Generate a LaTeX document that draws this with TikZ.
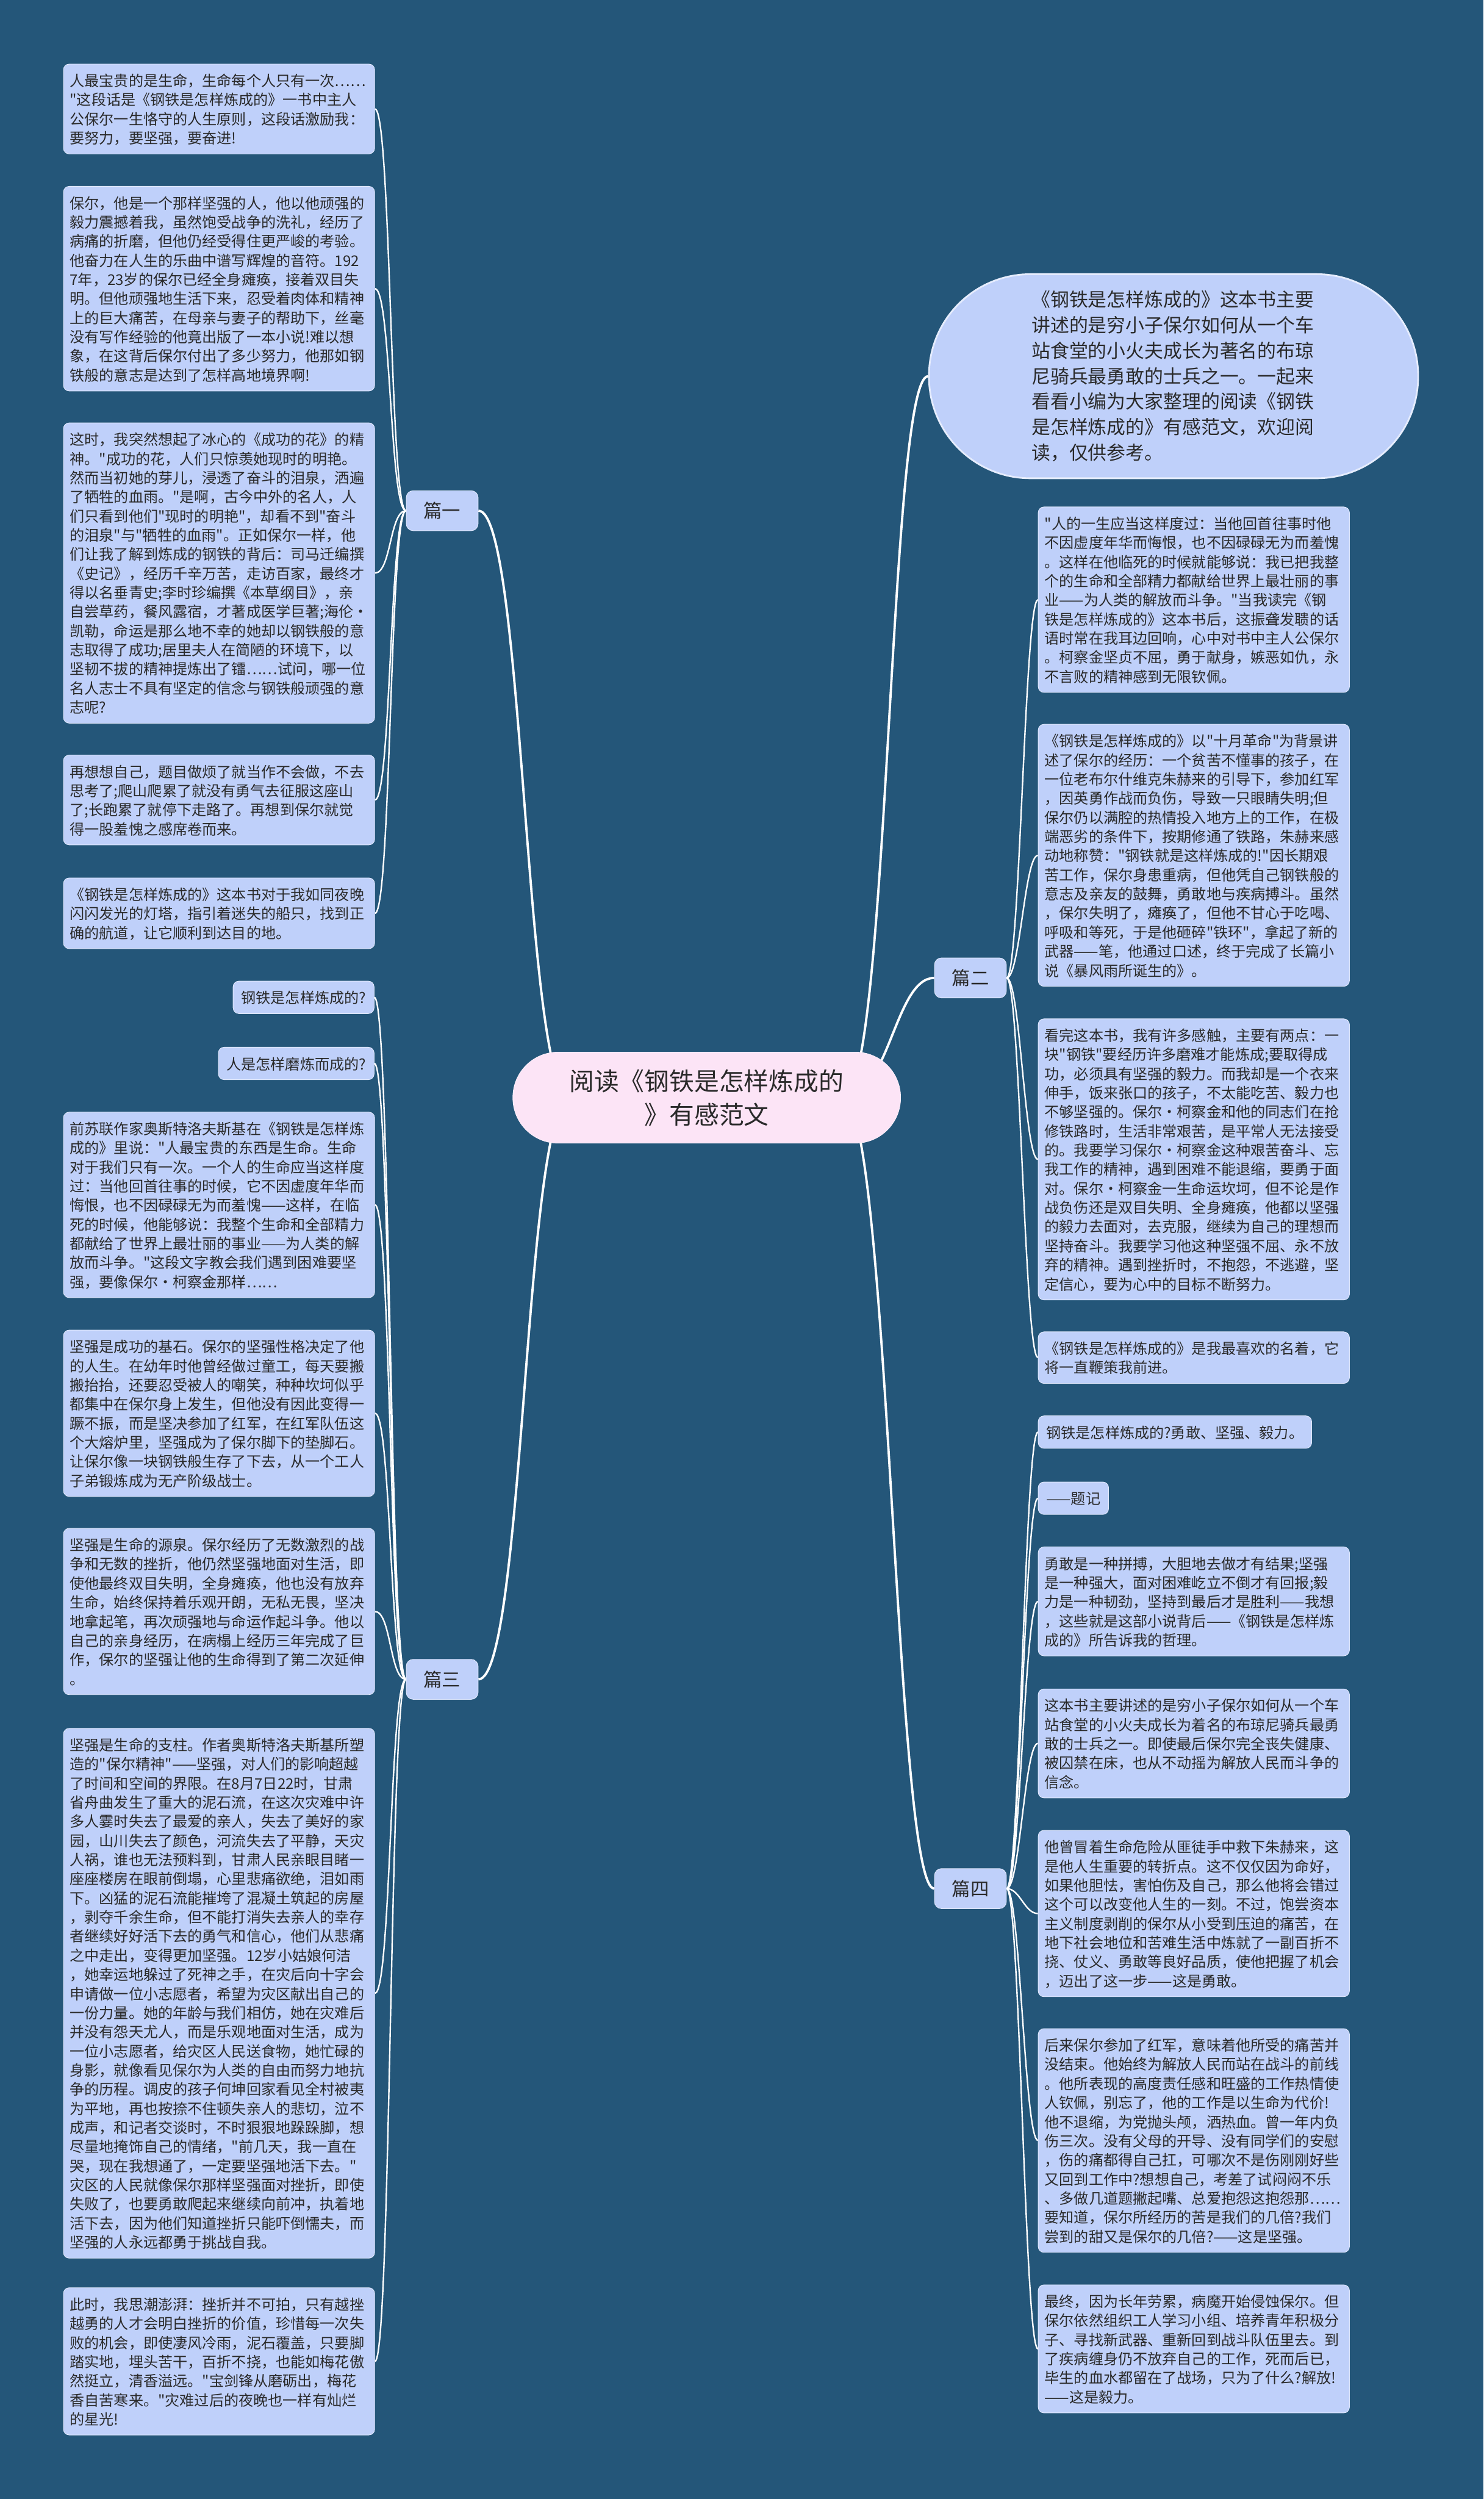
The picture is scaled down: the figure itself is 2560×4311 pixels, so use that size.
\documentclass[tikz,border=0pt]{standalone}
\usepackage{fontspec}
\setmainfont{Noto Sans CJK SC}
\newfontfamily\cjk{Noto Sans CJK SC}
\usetikzlibrary{backgrounds}
\definecolor{bgc}{HTML}{245679}
\definecolor{boxfill}{HTML}{BFD0FA}
\definecolor{rootfill}{HTML}{FCE4F6}
\definecolor{txt}{HTML}{2A2A2A}
\newcommand{\bt}[1]{\rule{0pt}{27pt}#1\rule[-6pt]{0pt}{6pt}}
\begin{document}
\begin{tikzpicture}[x=1pt,y=-1pt,
  tbox/.style={draw=boxfill!50!white, line width=1pt, fill=boxfill, rounded corners=10pt, text=txt,
    font=\cjk\fontsize{25.4}{33}\selectfont, align=left, text width=515pt, inner xsep=11pt, inner ysep=11.5pt},
  sbox/.style={draw=boxfill!50!white, line width=1pt, fill=boxfill, rounded corners=10pt, text=txt,
    font=\cjk\fontsize{25.4}{33}\selectfont, inner xsep=14pt, inner ysep=11.5pt},
  lbox/.style={draw=boxfill!50!white, line width=1pt, fill=boxfill, rounded corners=12pt, text=txt,
    font=\cjk\fontsize{32}{40}\selectfont, minimum width=124pt, minimum height=69pt, inner sep=0pt},
  ebox/.style={draw=boxfill!40!white, line width=3pt, fill=boxfill, rounded corners=175pt, text=txt,
    font=\cjk\fontsize{32.5}{44}\selectfont, align=left, text width=490pt, minimum width=844pt, minimum height=352pt, inner sep=0pt},
  rootbox/.style={fill=rootfill, draw=rootfill!60!white, line width=1pt, rounded corners=78pt, text=txt,
    font=\cjk\fontsize{43}{58}\selectfont, align=center, minimum width=669pt, minimum height=157pt, inner sep=0pt},
  link/.style={draw=white, line width=2.5pt},
  rlink/.style={draw=white, line width=4pt}]
\useasboundingbox (0,0) rectangle (2560,4311);

% root and intro
\node[rootbox] (root) at (1219.5,1893.5) {阅读《钢铁是怎样炼成的\\》有感范文};
\node[ebox] (intro) at (2025,649) {《钢铁是怎样炼成的》这本书主要\\讲述的是穷小子保尔如何从一个车\\站食堂的小火夫成长为著名的布琼\\尼骑兵最勇敢的士兵之一。一起来\\看看小编为大家整理的阅读《钢铁\\是怎样炼成的》有感范文，欢迎阅\\读，仅供参考。};

% branch labels
\node[lbox] (p1) at (763,881) {篇一};
\node[lbox] (p2) at (1674.5,1687) {篇二};
\node[lbox] (p3) at (763,2897) {篇三};
\node[lbox] (p4) at (1674.5,3258) {篇四};

% 篇一
\node[tbox, anchor=north west] (a1) at (109,110) {\bt{人最宝贵的是生命，生命每个人只有一次……\\"这段话是《钢铁是怎样炼成的》一书中主人\\公保尔一生恪守的人生原则，这段话激励我：\\要努力，要坚强，要奋进!}};
\node[tbox, anchor=north west] (a2) at (109,321) {\bt{保尔，他是一个那样坚强的人，他以他顽强的\\毅力震撼着我，虽然饱受战争的洗礼，经历了\\病痛的折磨，但他仍经受得住更严峻的考验。\\他奋力在人生的乐曲中谱写辉煌的音符。192\\7年，23岁的保尔已经全身瘫痪，接着双目失\\明。但他顽强地生活下来，忍受着肉体和精神\\上的巨大痛苦，在母亲与妻子的帮助下，丝毫\\没有写作经验的他竟出版了一本小说!难以想\\象，在这背后保尔付出了多少努力，他那如钢\\铁般的意志是达到了怎样高地境界啊!}};
\node[tbox, anchor=north west] (a3) at (109,729) {\bt{这时，我突然想起了冰心的《成功的花》的精\\神。"成功的花，人们只惊羡她现时的明艳。\\然而当初她的芽儿，浸透了奋斗的泪泉，洒遍\\了牺牲的血雨。"是啊，古今中外的名人，人\\们只看到他们"现时的明艳"，却看不到"奋斗\\的泪泉"与"牺牲的血雨"。正如保尔一样，他\\们让我了解到炼成的钢铁的背后：司马迁编撰\\《史记》，经历千辛万苦，走访百家，最终才\\得以名垂青史;李时珍编撰《本草纲目》，亲\\自尝草药，餐风露宿，才著成医学巨著;海伦·\\凯勒，命运是那么地不幸的她却以钢铁般的意\\志取得了成功;居里夫人在简陋的环境下，以\\坚韧不拔的精神提炼出了镭……试问，哪一位\\名人志士不具有坚定的信念与钢铁般顽强的意\\志呢?}};
\node[tbox, anchor=north west] (a4) at (109,1302) {\bt{再想想自己，题目做烦了就当作不会做，不去\\思考了;爬山爬累了就没有勇气去征服这座山\\了;长跑累了就停下走路了。再想到保尔就觉\\得一股羞愧之感席卷而来。}};
\node[tbox, anchor=north west] (a5) at (109,1514) {\bt{《钢铁是怎样炼成的》这本书对于我如同夜晚\\闪闪发光的灯塔，指引着迷失的船只，找到正\\确的航道，让它顺利到达目的地。}};

% 篇三
\node[sbox, anchor=north east] (c1) at (646,1692) {\bt{钢铁是怎样炼成的?}};
\node[sbox, anchor=north east] (c2) at (646,1806) {\bt{人是怎样磨炼而成的?}};
\node[tbox, anchor=north west] (c3) at (109,1918) {\bt{前苏联作家奥斯特洛夫斯基在《钢铁是怎样炼\\成的》里说："人最宝贵的东西是生命。生命\\对于我们只有一次。一个人的生命应当这样度\\过：当他回首往事的时候，它不因虚度年华而\\悔恨，也不因碌碌无为而羞愧——这样，在临\\死的时候，他能够说：我整个生命和全部精力\\都献给了世界上最壮丽的事业——为人类的解\\放而斗争。"这段文字教会我们遇到困难要坚\\强，要像保尔·柯察金那样……}};
\node[tbox, anchor=north west] (c4) at (109,2294) {\bt{坚强是成功的基石。保尔的坚强性格决定了他\\的人生。在幼年时他曾经做过童工，每天要搬\\搬抬抬，还要忍受被人的嘲笑，种种坎坷似乎\\都集中在保尔身上发生，但他没有因此变得一\\蹶不振，而是坚决参加了红军，在红军队伍这\\个大熔炉里，坚强成为了保尔脚下的垫脚石。\\让保尔像一块钢铁般生存了下去，从一个工人\\子弟锻炼成为无产阶级战士。}};
\node[tbox, anchor=north west] (c5) at (109,2636) {\bt{坚强是生命的源泉。保尔经历了无数激烈的战\\争和无数的挫折，他仍然坚强地面对生活，即\\使他最终双目失明，全身瘫痪，他也没有放弃\\生命，始终保持着乐观开朗，无私无畏，坚决\\地拿起笔，再次顽强地与命运作起斗争。他以\\自己的亲身经历，在病榻上经历三年完成了巨\\作，保尔的坚强让他的生命得到了第二次延伸\\。}};
\node[tbox, anchor=north west] (c6) at (109,2981) {\bt{坚强是生命的支柱。作者奥斯特洛夫斯基所塑\\造的"保尔精神"——坚强，对人们的影响超越\\了时间和空间的界限。在8月7日22时，甘肃\\省舟曲发生了重大的泥石流，在这次灾难中许\\多人霎时失去了最爱的亲人，失去了美好的家\\园，山川失去了颜色，河流失去了平静，天灾\\人祸，谁也无法预料到，甘肃人民亲眼目睹一\\座座楼房在眼前倒塌，心里悲痛欲绝，泪如雨\\下。凶猛的泥石流能摧垮了混凝土筑起的房屋\\，剥夺千余生命，但不能打消失去亲人的幸存\\者继续好好活下去的勇气和信心，他们从悲痛\\之中走出，变得更加坚强。12岁小姑娘何洁\\，她幸运地躲过了死神之手，在灾后向十字会\\申请做一位小志愿者，希望为灾区献出自己的\\一份力量。她的年龄与我们相仿，她在灾难后\\并没有怨天尤人，而是乐观地面对生活，成为\\一位小志愿者，给灾区人民送食物，她忙碌的\\身影，就像看见保尔为人类的自由而努力地抗\\争的历程。调皮的孩子何坤回家看见全村被夷\\为平地，再也按捺不住顿失亲人的悲切，泣不\\成声，和记者交谈时，不时狠狠地跺跺脚，想\\尽量地掩饰自己的情绪，"前几天，我一直在\\哭，现在我想通了，一定要坚强地活下去。"\\灾区的人民就像保尔那样坚强面对挫折，即使\\失败了，也要勇敢爬起来继续向前冲，执着地\\活下去，因为他们知道挫折只能吓倒懦夫，而\\坚强的人永远都勇于挑战自我。}};
\node[tbox, anchor=north west] (c7) at (109,3946) {\bt{此时，我思潮澎湃：挫折并不可拍，只有越挫\\越勇的人才会明白挫折的价值，珍惜每一次失\\败的机会，即使凄风冷雨，泥石覆盖，只要脚\\踏实地，埋头苦干，百折不挠，也能如梅花傲\\然挺立，清香溢远。"宝剑锋从磨砺出，梅花\\香自苦寒来。"灾难过后的夜晚也一样有灿烂\\的星光!}};

% 篇二
\node[tbox, anchor=north west] (b1) at (1791,874) {\bt{"人的一生应当这样度过：当他回首往事时他\\不因虚度年华而悔恨，也不因碌碌无为而羞愧\\。这样在他临死的时候就能够说：我已把我整\\个的生命和全部精力都献给世界上最壮丽的事\\业——为人类的解放而斗争。"当我读完《钢\\铁是怎样炼成的》这本书后，这振聋发聩的话\\语时常在我耳边回响，心中对书中主人公保尔\\。柯察金坚贞不屈，勇于献身，嫉恶如仇，永\\不言败的精神感到无限钦佩。}};
\node[tbox, anchor=north west] (b2) at (1791,1249) {\bt{《钢铁是怎样炼成的》以"十月革命"为背景讲\\述了保尔的经历：一个贫苦不懂事的孩子，在\\一位老布尔什维克朱赫来的引导下，参加红军\\，因英勇作战而负伤，导致一只眼睛失明;但\\保尔仍以满腔的热情投入地方上的工作，在极\\端恶劣的条件下，按期修通了铁路，朱赫来感\\动地称赞："钢铁就是这样炼成的!"因长期艰\\苦工作，保尔身患重病，但他凭自己钢铁般的\\意志及亲友的鼓舞，勇敢地与疾病搏斗。虽然\\，保尔失明了，瘫痪了，但他不甘心于吃喝、\\呼吸和等死，于是他砸碎"铁环"，拿起了新的\\武器——笔，他通过口述，终于完成了长篇小\\说《暴风雨所诞生的》。}};
\node[tbox, anchor=north west] (b3) at (1791,1757) {\bt{看完这本书，我有许多感触，主要有两点：一\\块"钢铁"要经历许多磨难才能炼成;要取得成\\功，必须具有坚强的毅力。而我却是一个衣来\\伸手，饭来张口的孩子，不太能吃苦、毅力也\\不够坚强的。保尔·柯察金和他的同志们在抢\\修铁路时，生活非常艰苦，是平常人无法接受\\的。我要学习保尔·柯察金这种艰苦奋斗、忘\\我工作的精神，遇到困难不能退缩，要勇于面\\对。保尔·柯察金一生命运坎坷，但不论是作\\战负伤还是双目失明、全身瘫痪，他都以坚强\\的毅力去面对，去克服，继续为自己的理想而\\坚持奋斗。我要学习他这种坚强不屈、永不放\\弃的精神。遇到挫折时，不抱怨，不逃避，坚\\定信心，要为心中的目标不断努力。}};
\node[tbox, anchor=north west] (b4) at (1791,2297) {\bt{《钢铁是怎样炼成的》是我最喜欢的名着，它\\将一直鞭策我前进。}};

% 篇四
\node[sbox, anchor=north west] (d1) at (1791,2442) {\bt{钢铁是怎样炼成的?勇敢、坚强、毅力。}};
\node[sbox, anchor=north west] (d2) at (1791,2556) {\bt{——题记}};
\node[tbox, anchor=north west] (d3) at (1791,2668) {\bt{勇敢是一种拼搏，大胆地去做才有结果;坚强\\是一种强大，面对困难屹立不倒才有回报;毅\\力是一种韧劲，坚持到最后才是胜利——我想\\，这些就是这部小说背后——《钢铁是怎样炼\\成的》所告诉我的哲理。}};
\node[tbox, anchor=north west] (d4) at (1791,2913) {\bt{这本书主要讲述的是穷小子保尔如何从一个车\\站食堂的小火夫成长为着名的布琼尼骑兵最勇\\敢的士兵之一。即使最后保尔完全丧失健康、\\被囚禁在床，也从不动摇为解放人民而斗争的\\信念。}};
\node[tbox, anchor=north west] (d5) at (1791,3157) {\bt{他曾冒着生命危险从匪徒手中救下朱赫来，这\\是他人生重要的转折点。这不仅仅因为命好，\\如果他胆怯，害怕伤及自己，那么他将会错过\\这个可以改变他人生的一刻。不过，饱尝资本\\主义制度剥削的保尔从小受到压迫的痛苦，在\\地下社会地位和苦难生活中炼就了一副百折不\\挠、仗义、勇敢等良好品质，使他把握了机会\\，迈出了这一步——这是勇敢。}};
\node[tbox, anchor=north west] (d6) at (1791,3499) {\bt{后来保尔参加了红军，意味着他所受的痛苦并\\没结束。他始终为解放人民而站在战斗的前线\\。他所表现的高度责任感和旺盛的工作热情使\\人钦佩，别忘了，他的工作是以生命为代价!\\他不退缩，为党抛头颅，洒热血。曾一年内负\\伤三次。没有父母的开导、没有同学们的安慰\\，伤的痛都得自己扛，可哪次不是伤刚刚好些\\又回到工作中?想想自己，考差了试闷闷不乐\\、多做几道题撇起嘴、总爱抱怨这抱怨那……\\要知道，保尔所经历的苦是我们的几倍?我们\\尝到的甜又是保尔的几倍?——这是坚强。}};
\node[tbox, anchor=north west] (d7) at (1791,3941) {\bt{最终，因为长年劳累，病魔开始侵蚀保尔。但\\保尔依然组织工人学习小组、培养青年积极分\\子、寻找新武器、重新回到战斗队伍里去。到\\了疾病缠身仍不放弃自己的工作，死而后已，\\毕生的血水都留在了战场，只为了什么?解放!\\——这是毅力。}};

\begin{pgfonlayer}{background}
\fill[bgc] (0,0) rectangle (2560,4311);
% root connectors
\draw[rlink] ([xshift=100pt]root.west) .. controls +(-80,0) and +(80,0) .. (p1.east);
\draw[rlink] ([xshift=100pt]root.west) .. controls +(-80,0) and +(80,0) .. (p3.east);
\draw[rlink] ([xshift=-100pt]root.east) .. controls +(80,0) and +(-68,0) .. (intro.west);
\draw[rlink] ([xshift=-100pt]root.east) .. controls +(80,0) and +(-68,0) .. (p2.west);
\draw[rlink] ([xshift=-100pt]root.east) .. controls +(80,0) and +(-68,0) .. (p4.west);
% 篇一
\foreach \n in {a1,a2,a3,a4,a5}
  \draw[link] (p1.west) .. controls +(-28,0) and +(28,0) .. (\n.east);
% 篇三
\foreach \n in {c1,c2,c3,c4,c5,c6,c7}
  \draw[link] (p3.west) .. controls +(-28,0) and +(28,0) .. (\n.east);
% 篇二
\foreach \n in {b1,b2,b3,b4}
  \draw[link] (p2.east) .. controls +(23,0) and +(-23,0) .. (\n.west);
% 篇四
\foreach \n in {d1,d2,d3,d4,d5,d6,d7}
  \draw[link] (p4.east) .. controls +(23,0) and +(-23,0) .. (\n.west);
\end{pgfonlayer}
\end{tikzpicture}
\end{document}
